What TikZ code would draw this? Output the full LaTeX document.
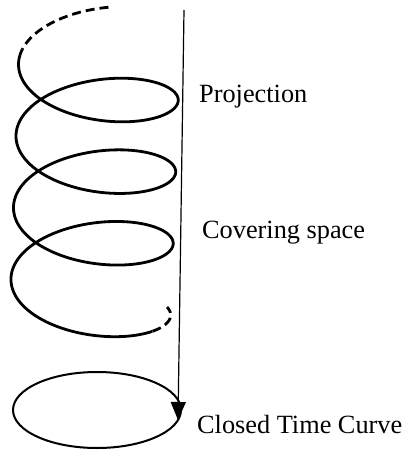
\documentclass[tikz,border=0pt]{standalone}
\usepackage{fontspec}
\setmainfont{Liberation Serif}
\usetikzlibrary{arrows.meta,shapes.geometric}
\tikzset{
  helix/.style={line width=2.8pt, line join=round},
  helixdash/.style={helix, dash pattern=on 9pt off 5pt},
  lbl/.style={font=\fontsize{26.3}{30}\selectfont, anchor=base west, inner sep=0pt},
  proj/.style={line width=1.2pt, -{Triangle[length=18pt,width=15pt]}},
  curve/.style={draw, ellipse, line width=2pt, inner sep=0pt}
}
\begin{document}
\begin{tikzpicture}[x=1pt,y=-1pt]
\useasboundingbox (0,0) rectangle (407,469);
% helix (covering space)
\draw[helixdash, domain=-1.68:-0.3, samples=40, smooth, variable=\t]
  plot ({99-80.5*cos(\t r)-0.4*\t},{64.2+11.4*\t+38*sin(\t r)});
\draw[helix, domain=-0.3:21.3, samples=400, smooth, variable=\t]
  plot ({99-80.5*cos(\t r)-0.4*\t},{64.2+11.4*\t+38*sin(\t r)});
\draw[helixdash, domain=21.3:22.29, samples=30, smooth, variable=\t]
  plot ({99-80.5*cos(\t r)-0.4*\t},{64.2+11.4*\t+38*sin(\t r)});
% closed time curve
\node[curve, minimum width=168pt, minimum height=76pt] (ctc) at (97,410) {};
% projection arrow
\coordinate (top) at (184,10);
\coordinate (tip) at (178,420);
\draw[proj] (top) -- (tip);
% labels
\node[lbl] (projlbl) at (199,102) {Projection};
\node[lbl] (covlbl) at (202,238) {Covering space};
\node[lbl] (ctclbl) at (197,433) {Closed Time Curve};
\end{tikzpicture}
\end{document}
